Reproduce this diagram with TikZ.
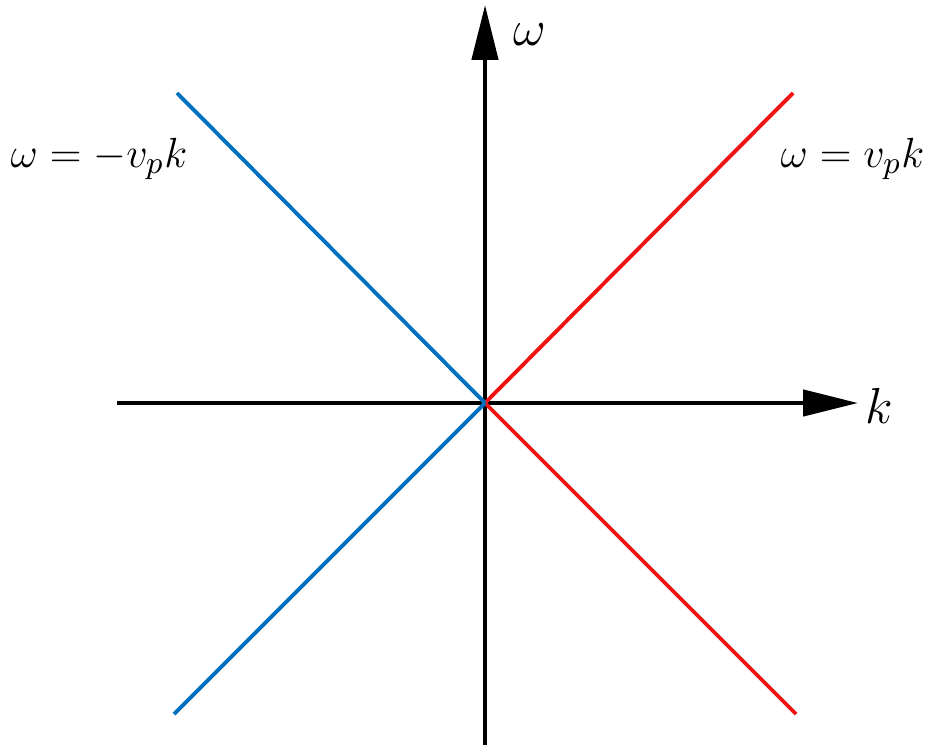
\documentclass[tikz,border=0pt]{standalone}
\usetikzlibrary{arrows.meta}
\definecolor{lineRed}{RGB}{238,20,20}
\definecolor{lineBlue}{RGB}{0,112,192}
\tikzset{
	axis/.style={line width=1.3pt, -{Triangle[length=5.5mm, width=2.6mm]}},
	branch/.style={line width=1.1pt},
	lbl/.style={font=\fontsize{13}{15}\selectfont},
	axlbl/.style={font=\fontsize{15}{18}\selectfont}
}
\begin{document}
\begin{tikzpicture}
	\useasboundingbox (0, 0) rectangle (9.42, 7.5);
	\coordinate (o) at (4.85, 3.47);
	\coordinate (xl) at (1.17, 3.47);
	\coordinate (xr) at (8.58, 3.47);
	\coordinate (yb) at (4.85, 0.05);
	\coordinate (yt) at (4.85, 7.45);
	\coordinate (ru) at (7.93, 6.57);
	\coordinate (rd) at (7.96, 0.36);
	\coordinate (bu) at (1.77, 6.57);
	\coordinate (bd) at (1.74, 0.36);
	\draw [axis] (xl) -- (xr);
	\draw [axis] (yb) -- (yt);
	\draw [branch, lineRed] (o) -- (ru);
	\draw [branch, lineRed] (o) -- (rd);
	\draw [branch, lineBlue] (o) -- (bu);
	\draw [branch, lineBlue] (o) -- (bd);
	\node [axlbl] (kLabel) at (8.79, 3.44) {$k$};
	\node [axlbl] (wLabel) at (5.30, 7.15) {$\omega$};
	\node [lbl, anchor=base west, inner sep=0pt] (minusLabel) at (0.10, 5.83) {$\omega = -v_p k$};
	\node [lbl, anchor=base east, inner sep=0pt] (plusLabel) at (9.25, 5.83) {$\omega = v_p k$};
\end{tikzpicture}
\end{document}
